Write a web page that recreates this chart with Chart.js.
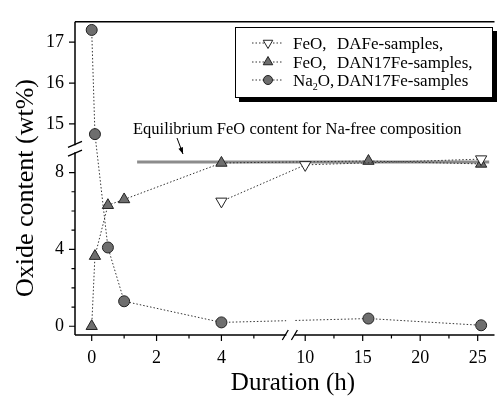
<!DOCTYPE html>
<html lang="en">
<head>
<meta charset="UTF-8">
<title>Oxide content vs duration</title>
<script src="https://cdn.jsdelivr.net/npm/chart.js"></script>
<style>
    html, body { margin: 0; padding: 0; background: #fff; }
</style>
</head>
<body>
<canvas id="oxideChart" width="502" height="396"></canvas>
<script>
// measured values (time in h, content in wt%)
const dafeTime = [4, 10, 25.3];
const dafeFeO = [6.5, 8.4, 8.7];
const dan17Time = [0, 0.1, 0.5, 1, 4, 15.5, 25.3];
const dan17FeO = [0, 3.65, 6.3, 6.6, 8.5, 8.6, 8.45];
const naTime = [0, 0.1, 0.5, 1, 4, 15.5, 25.3];
const naValue = [17.3, 14.75, 4.1, 1.3, 0.2, 0.4, 0.05];
const eqTime = [1.4, 26];
const eqFeO = [8.55, 8.55];

const xMajor = [0, 2, 4, 10, 15, 20, 25];
const xTickLabels = ['0', '2', '4', '10', '15', '20', '25'];
const xMinor = [1, 3, 5, 12.5, 17.5, 22.5];
const yMajor = [0, 4, 8, 15, 16, 17];
const yTickLabels = ['0', '4', '8', '15', '16', '17'];
const yMinor = [1, 2, 3, 5, 6, 7];

// broken axes: lower part is kept as is, upper part is squeezed / stretched
const xLowEnd = 6, xHighStart = 9.06;
const yLowEnd = 9.06, yHighStart = 14.476;
function tx(t) { return t <= 7 ? t : 6.25 + (t - xHighStart) * 11.7 / 33; }
function ty(v) { return v <= 12 ? v : 10.532 + (v - 15) * 42 / 19.75; }

function pts(xs, ys) {
    return xs.map((t, i) => ({ x: tx(t), y: ty(ys[i]) }));
}

const FONT = "'Liberation Serif', serif";
const markGray = 'rgb(110,110,110)';
const lineCol = '#333';
Chart.defaults.font.family = FONT;
Chart.defaults.color = '#000';

const breakPlugin = {
    id: 'breaks',
    afterDraw(chart) {
        const ctx = chart.ctx;
        const area = chart.chartArea;
        const xs = chart.scales.x, ys = chart.scales.y;
        const px = t => xs.getPixelForValue(tx(t));
        const py = v => ys.getPixelForValue(ty(v));
        ctx.save();

        // cut the dotted line where the time axis is broken
        const gx0 = px(xLowEnd), gx1 = px(xHighStart);
        ctx.fillStyle = '#fff';
        ctx.fillRect(gx0, area.bottom - 22, gx1 - gx0, 21);

        ctx.strokeStyle = '#000';
        ctx.lineWidth = 1.5;
        ctx.beginPath();
        // frame top
        ctx.moveTo(area.left, area.top);
        ctx.lineTo(area.right, area.top);
        // left axis, two pieces
        const yb0 = py(yLowEnd), yb1 = py(yHighStart);
        ctx.moveTo(area.left, area.bottom);
        ctx.lineTo(area.left, yb0);
        ctx.moveTo(area.left, yb1);
        ctx.lineTo(area.left, area.top);
        // bottom axis, two pieces
        ctx.moveTo(area.left, area.bottom);
        ctx.lineTo(gx0, area.bottom);
        ctx.moveTo(gx1, area.bottom);
        ctx.lineTo(area.right, area.bottom);
        ctx.stroke();

        // break marks
        ctx.lineWidth = 1.3;
        ctx.beginPath();
        ctx.moveTo(area.left - 7, yb1 + 2); ctx.lineTo(area.left + 7, yb1 - 4);
        ctx.moveTo(area.left - 7, yb0 + 4); ctx.lineTo(area.left + 7, yb0 - 2);
        ctx.moveTo(gx0 - 4, area.bottom + 5); ctx.lineTo(gx0 + 2, area.bottom - 5);
        ctx.moveTo(gx1 - 3, area.bottom + 5); ctx.lineTo(gx1 + 3, area.bottom - 5);
        ctx.stroke();

        // tick marks, outward
        ctx.lineWidth = 1.2;
        ctx.beginPath();
        xMajor.forEach(t => { ctx.moveTo(px(t), area.bottom); ctx.lineTo(px(t), area.bottom + 6); });
        xMinor.forEach(t => { ctx.moveTo(px(t), area.bottom); ctx.lineTo(px(t), area.bottom + 3.5); });
        yMajor.forEach(v => { ctx.moveTo(area.left, py(v)); ctx.lineTo(area.left - 6, py(v)); });
        yMinor.forEach(v => { ctx.moveTo(area.left, py(v)); ctx.lineTo(area.left - 3.5, py(v)); });
        ctx.stroke();

        // axis titles
        ctx.fillStyle = '#000';
        ctx.font = '25px ' + FONT;
        ctx.textAlign = 'center';
        ctx.textBaseline = 'alphabetic';
        ctx.fillText('Duration (h)', 293, 390);
        ctx.save();
        ctx.translate(33, 188);
        ctx.rotate(-Math.PI / 2);
        ctx.font = '26px ' + FONT;
        ctx.fillText('Oxide content (wt%)', 0, 0);
        ctx.restore();

        // equilibrium note with arrow
        ctx.font = '16.5px ' + FONT;
        ctx.textAlign = 'left';
        ctx.fillText('Equilibrium FeO content for Na-free composition', 133, 134);
        const ax0 = 177, ay0 = 138, ax1 = 183, ay1 = 154;
        ctx.lineWidth = 1;
        ctx.beginPath();
        ctx.moveTo(ax0, ay0); ctx.lineTo(ax1, ay1);
        ctx.stroke();
        const ang = Math.atan2(ay1 - ay0, ax1 - ax0);
        ctx.beginPath();
        ctx.moveTo(ax1, ay1);
        ctx.lineTo(ax1 - 7 * Math.cos(ang - 0.35), ay1 - 7 * Math.sin(ang - 0.35));
        ctx.lineTo(ax1 - 7 * Math.cos(ang + 0.35), ay1 - 7 * Math.sin(ang + 0.35));
        ctx.closePath();
        ctx.fill();

        // legend box with shadow
        const bx = 235, by = 27, bw = 257, bh = 70;
        ctx.fillStyle = '#000';
        ctx.fillRect(bx + 4, by + 4, bw + 1, bh + 1);
        ctx.fillStyle = '#fff';
        ctx.fillRect(bx, by, bw, bh);
        ctx.strokeStyle = '#000';
        ctx.lineWidth = 1;
        ctx.strokeRect(bx + 0.5, by + 0.5, bw, bh);

        const rows = [43, 62, 80];
        rows.forEach((ry, i) => {
            const ds = chart.data.datasets[i];
            ctx.strokeStyle = lineCol;
            ctx.lineWidth = 1;
            ctx.setLineDash([1.5, 2]);
            ctx.beginPath();
            ctx.moveTo(252, ry); ctx.lineTo(283, ry);
            ctx.stroke();
            ctx.setLineDash([]);
            ctx.fillStyle = ds.pointBackgroundColor;
            ctx.strokeStyle = ds.pointBorderColor;
            Chart.helpers.drawPoint(ctx, {
                pointStyle: ds.pointStyle, radius: ds.pointRadius - 1,
                rotation: ds.rotation || 0, borderWidth: 1
            }, 268, ry);
        });
        const col2 = 337;
        ctx.fillStyle = '#000';
        ctx.font = '17px ' + FONT;
        ctx.fillText('FeO,', 293, rows[0] + 6);
        ctx.fillText('DAFe-samples,', col2, rows[0] + 6);
        ctx.fillText('FeO,', 293, rows[1] + 6);
        ctx.fillText('DAN17Fe-samples,', col2, rows[1] + 6);
        ctx.fillText('Na', 293, rows[2] + 6);
        let w = ctx.measureText('Na').width;
        ctx.font = '10px ' + FONT;
        ctx.fillText('2', 293 + w, rows[2] + 10);
        w += ctx.measureText('2').width;
        ctx.font = '17px ' + FONT;
        ctx.fillText('O,', 293 + w, rows[2] + 6);
        ctx.fillText('DAN17Fe-samples', col2, rows[2] + 6);

        ctx.restore();
    }
};

new Chart(document.getElementById('oxideChart'), {
    type: 'scatter',
    data: {
        datasets: [{
            label: 'FeO, DAFe-samples',
            data: pts(dafeTime, dafeFeO),
            showLine: true,
            borderColor: lineCol,
            borderWidth: 1,
            borderDash: [1.5, 2],
            pointStyle: 'triangle',
            rotation: 180,
            pointRadius: 6.5,
            pointBackgroundColor: '#fff',
            pointBorderColor: '#222',
            pointBorderWidth: 1,
            order: 1
        }, {
            label: 'FeO, DAN17Fe-samples',
            data: pts(dan17Time, dan17FeO),
            showLine: true,
            borderColor: lineCol,
            borderWidth: 1,
            borderDash: [1.5, 2],
            pointStyle: 'triangle',
            pointRadius: 6.5,
            pointBackgroundColor: markGray,
            pointBorderColor: '#222',
            pointBorderWidth: 1,
            order: 1
        }, {
            label: 'Na2O, DAN17Fe-samples',
            data: pts(naTime, naValue),
            showLine: true,
            borderColor: lineCol,
            borderWidth: 1,
            borderDash: [1.5, 2],
            pointStyle: 'circle',
            pointRadius: 5.5,
            pointBackgroundColor: markGray,
            pointBorderColor: '#222',
            pointBorderWidth: 1,
            order: 1
        }, {
            label: 'Equilibrium FeO',
            data: pts(eqTime, eqFeO),
            showLine: true,
            borderColor: 'rgb(140,140,140)',
            borderWidth: 3,
            pointRadius: 0,
            order: 5
        }]
    },
    options: {
        responsive: false,
        animation: false,
        layout: { padding: { top: 13, right: 0, left: 0, bottom: 0 } },
        plugins: { legend: { display: false }, tooltip: { enabled: false } },
        scales: {
            x: {
                type: 'linear',
                min: -0.515,
                max: 12.42,
                grid: { display: false, drawTicks: false },
                border: { display: false },
                afterBuildTicks: s => { s.ticks = xMajor.map(t => ({ value: tx(t) })); },
                afterFit: s => { s.height = 61; },
                ticks: {
                    autoSkip: false,
                    maxRotation: 0,
                    padding: 12,
                    color: '#000',
                    font: { family: FONT, size: 18 },
                    callback: (v, i) => xTickLabels[i]
                }
            },
            y: {
                type: 'linear',
                min: -0.456,
                max: 15.848,
                grid: { display: false, drawTicks: false },
                border: { display: false },
                afterBuildTicks: s => { s.ticks = yMajor.map(v => ({ value: ty(v) })); },
                afterFit: s => { s.width = 75; },
                ticks: {
                    autoSkip: false,
                    padding: 11,
                    color: '#000',
                    font: { family: FONT, size: 18 },
                    callback: (v, i) => yTickLabels[i]
                }
            }
        }
    },
    plugins: [breakPlugin]
});
</script>
</body>
</html>
